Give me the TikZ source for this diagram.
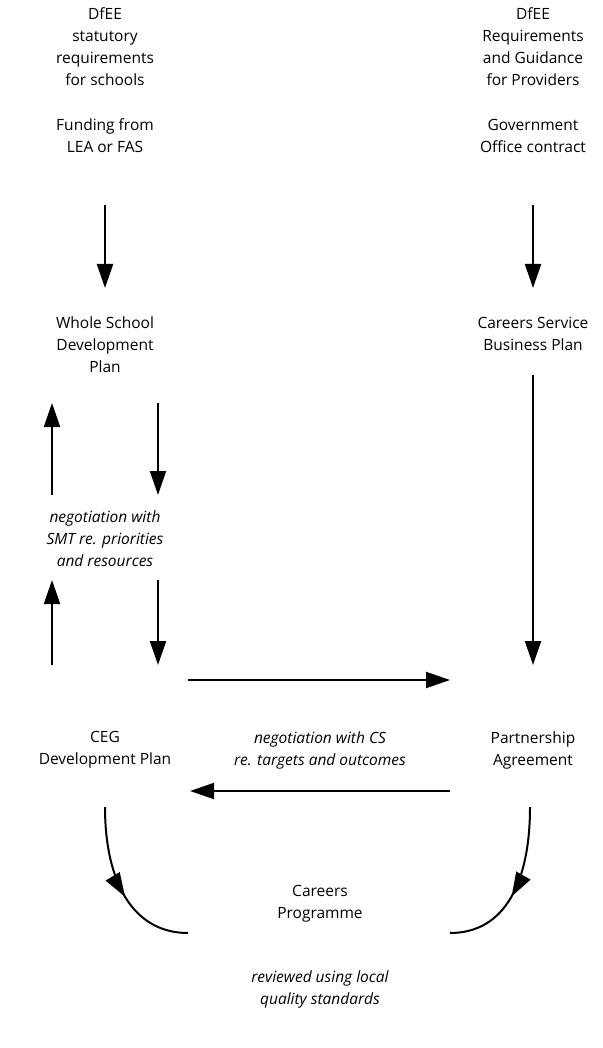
\documentclass[tikz,border=0pt]{standalone}
\usepackage{fontspec}
\setmainfont{Open Sans}
\usetikzlibrary{arrows.meta,decorations.markings}

\begin{document}
\begin{tikzpicture}[x=1pt,y=-1pt,
  txt/.style={align=center,inner sep=0pt,font=\fontsize{15.5}{22}\selectfont},
  ital/.style={txt,font=\fontsize{15.5}{22}\selectfont\itshape},
  arr/.style={line width=2pt,-{Triangle[length=24pt,width=16pt]}},
  midarr/.style={line width=2pt,postaction={decorate},
    decoration={markings,mark=at position 0.55 with {\arrow{Triangle[length=24pt,width=16pt]}}}}]
\useasboundingbox (0,0) rectangle (602,1048);

%left column
\node[txt] (dfeeschools) at (105,47) {DfEE\\statutory\\requirements\\for schools};
\node[txt] (funding) at (105,136) {Funding from\\LEA or FAS};
\node[txt] (wsdp) at (105,345) {Whole School\\Development\\Plan};
\node[ital] (negsmt) at (105,539) {negotiation with\\SMT re. priorities\\and resources};
\node[txt] (ceg) at (105,750) {CEG\\Development Plan};

%right column
\node[txt] (dfeeprov) at (533,47) {DfEE\\Requirements\\and Guidance\\for Providers};
\node[txt] (gocontract) at (533,136) {Government\\Office contract};
\node[txt] (bizplan) at (533,334) {Careers Service\\Business Plan};
\node[txt] (partner) at (533,750) {Partnership\\Agreement};

%middle
\node[ital] (negcs) at (320,750) {negotiation with CS\\re. targets and outcomes};
\node[txt] (programme) at (320,904) {Careers\\Programme};
\node[ital] (reviewed) at (320,989) {reviewed using local\\quality standards};

%vertical arrows
\draw[arr, shorten <=69pt, shorten >=57pt] (funding.center) -- (wsdp.center);
\draw[arr, shorten <=69pt, shorten >=46pt] (gocontract.center) -- (bizplan.center);
\draw[arr, shorten <=41pt, shorten >=85pt] (bizplan.center) -- (partner.center);

\draw[arr, shorten <=44pt, shorten >=58pt] ([xshift=-53pt]negsmt.center) -- ([xshift=-53pt]wsdp.center);
\draw[arr, shorten <=58pt, shorten >=44pt] ([xshift=53pt]wsdp.center) -- ([xshift=53pt]negsmt.center);
\draw[arr, shorten <=85pt, shorten >=41pt] ([xshift=-53pt]ceg.center) -- ([xshift=-53pt]negsmt.center);
\draw[arr, shorten <=41pt, shorten >=85pt] ([xshift=53pt]negsmt.center) -- ([xshift=53pt]ceg.center);

%horizontal arrows
\draw[arr, shorten <=83pt, shorten >=83pt] ([yshift=70pt]ceg.center) -- ([yshift=70pt]partner.center);
\draw[arr, shorten <=83pt, shorten >=85pt] ([yshift=-41pt]partner.center) -- ([yshift=-41pt]ceg.center);

%curved arrows
\draw[midarr] ([yshift=-57pt]ceg.center) .. controls +(0,75) and +(-55,0) .. ([xshift=-132pt,yshift=-29pt]programme.center);
\draw[midarr] ([xshift=-3pt,yshift=-57pt]partner.center) .. controls +(0,75) and +(55,0) .. ([xshift=130pt,yshift=-29pt]programme.center);

\end{tikzpicture}
\end{document}
